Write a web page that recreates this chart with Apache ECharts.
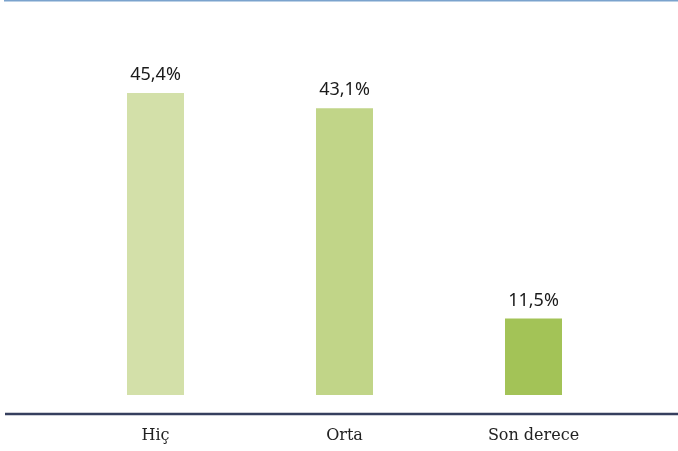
<!DOCTYPE html>
<html>
<head>
<meta charset="utf-8">
<script src="https://cdn.jsdelivr.net/npm/echarts@6/dist/echarts.min.js"></script>
<style>
  html, body { margin: 0; padding: 0; background: #fff; }
  #bar-chart { width: 678px; height: 451px; }
</style>
</head>
<body>
<div id="bar-chart"></div>
<script>
var categories = ['Hiç', 'Orta', 'Son derece'];
var values = [45.4, 43.1, 11.5];
var barColors = ['#d3e0a9', '#c1d588', '#a3c357'];

function barChart(){
    var chart = echarts.init(document.getElementById('bar-chart'));
    var option = {
        animation: false,
        grid: {
            left: 61,
            right: 50,
            top: 62.4,
            bottom: 56
        },
        graphic: [{
            type: 'line',
            shape: { x1: 4, y1: 0.75, x2: 678, y2: 0.75 },
            style: { stroke: '#7ba3cd', lineWidth: 1.5 }
        }, {
            type: 'line',
            shape: { x1: 5, y1: 414, x2: 678, y2: 414 },
            style: { stroke: '#363f5e', lineWidth: 2.5 }
        }],
        xAxis: {
            type: 'category',
            data: categories,
            offset: 19,
            axisLine: { show: false },
            axisTick: { show: false },
            axisLabel: {
                margin: 14,
                color: '#222',
                fontFamily: 'DejaVu Serif',
                fontSize: 16
            }
        },
        yAxis: {
            type: 'value',
            min: 0,
            max: 50,
            show: false,
            splitLine: { show: false }
        },
        series: [{
            type: 'bar',
            barWidth: 57,
            data: values.map(function(v, i){
                return { value: v, itemStyle: { color: barColors[i] } };
            }),
            label: {
                show: true,
                position: 'top',
                distance: 9,
                color: '#1a1a1a',
                fontFamily: 'Noto Sans',
                fontSize: 18,
                formatter: function(p){
                    return p.value.toFixed(1).replace('.', ',') + '%';
                }
            }
        }]
    };
    chart.setOption(option);
}
barChart();
</script>
</body>
</html>
